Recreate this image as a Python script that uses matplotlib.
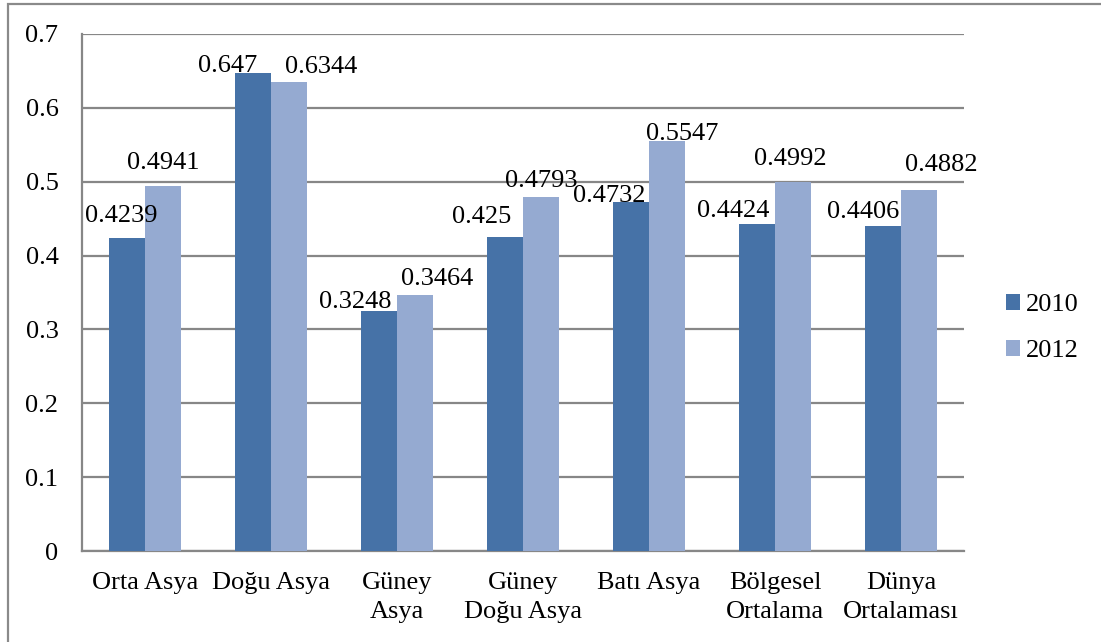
import matplotlib
matplotlib.use("Agg")
import matplotlib.pyplot as plt
import numpy as np
from matplotlib.patches import Rectangle

plt.rcParams['font.family'] = ['Liberation Serif', 'DejaVu Serif']

categories = ["Orta Asya", "Doğu Asya", "Güney\nAsya", "Güney\nDoğu Asya",
              "Batı Asya", "Bölgesel\nOrtalama", "Dünya\nOrtalaması"]
values_2010 = [0.4239, 0.647, 0.3248, 0.425, 0.4732, 0.4424, 0.4406]
values_2012 = [0.4941, 0.6344, 0.3464, 0.4793, 0.5547, 0.4992, 0.4882]
series_names = ["2010", "2012"]
y_ticks = [0, 0.1, 0.2, 0.3, 0.4, 0.5, 0.6, 0.7]

color_2010 = "#4672A7"
color_2012 = "#95AAD1"
grid_color = "#878787"
FS = 19

# label nudges (points, baseline relative to bar top) so neighbours do not collide
off_2010 = [(-4, 11.5), (-18, 0.7), (-17, 2.5), (-17, 10), (-16, 0), (-17, 5.5), (-14, 5.5)]
off_2012 = [(0, 12), (23, 7), (16, 7.5), (0, 7.5), (11, 1), (-2, 12.5), (16, 14)]

fig = plt.figure(figsize=(11.01, 6.42), dpi=100)
ax = fig.add_axes([82 / 1101, 1 - 551 / 642, (964 - 82) / 1101, (551 - 34) / 642])

x = np.arange(len(categories))
w = 36 / 126
b1 = ax.bar(x - w / 2, values_2010, w, color=color_2010, label=series_names[0], zorder=3)
b2 = ax.bar(x + w / 2, values_2012, w, color=color_2012, label=series_names[1], zorder=3)

for xs, vals, offs in ((x - w / 2, values_2010, off_2010), (x + w / 2, values_2012, off_2012)):
    for xi, v, (dx, dy) in zip(xs, vals, offs):
        ax.annotate(f"{v:g}", (xi, v), xytext=(dx, dy), textcoords="offset points",
                    ha="center", va="baseline", fontsize=FS, zorder=4)

ax.set_xlim(-0.5, len(categories) - 0.5)
ax.set_ylim(0, 0.7)
ax.set_yticks(y_ticks)
ax.set_yticklabels([f"{t:g}" for t in y_ticks], fontsize=FS)
ax.set_xticks(x)
ax.set_xticklabels(categories, fontsize=FS, linespacing=1.4)
ax.tick_params(axis='y', length=0, pad=17)
ax.tick_params(axis='x', length=0, pad=15)

ax.grid(axis='y', color=grid_color, linewidth=1.6, zorder=0)
for s in ["top", "right"]:
    ax.spines[s].set_visible(False)
for s in ["left", "bottom"]:
    ax.spines[s].set_color(grid_color)
    ax.spines[s].set_linewidth(1.6)

leg = fig.legend(handles=[b1, b2], labels=series_names, loc="center left",
                 bbox_to_anchor=(982 / 1101, 1 - 328 / 642), frameon=False,
                 fontsize=FS, handlelength=0.55, handleheight=0.55,
                 handletextpad=0.2, labelspacing=0.9)

# outer chart border
fig.patches.append(Rectangle((8 / 1101, -0.05), 1.1, 1 - 4 / 642 + 0.05,
                             transform=fig.transFigure, fill=False,
                             edgecolor="#8a8a8a", linewidth=1.6))

fig.savefig("out.png", dpi=100)
